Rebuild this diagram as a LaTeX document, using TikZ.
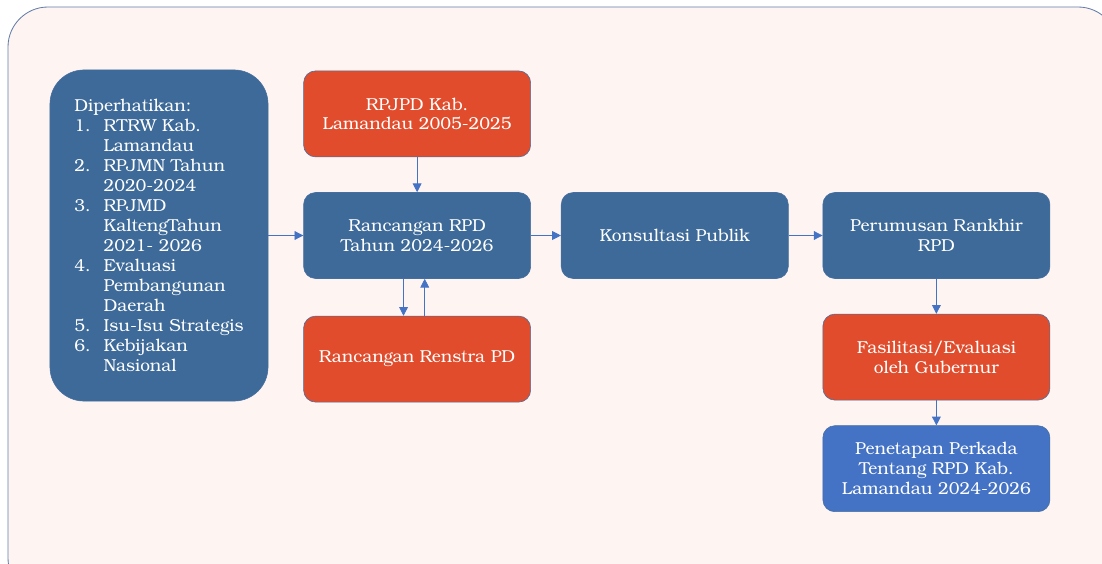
\documentclass[tikz,border=0pt]{standalone}
\usepackage{fontspec}
\setmainfont{TeX Gyre Bonum}
\usepackage{tikz}
\usetikzlibrary{arrows.meta,positioning}
\usepackage{xcolor}
\definecolor{rpdblue}{RGB}{61,106,152}
\definecolor{rpdred}{RGB}{224,76,44}
\definecolor{rpdbright}{RGB}{68,114,196}
\definecolor{rpdline}{RGB}{70,110,160}
\definecolor{rpdbg}{RGB}{254,244,242}
\definecolor{rpdframe}{RGB}{100,125,170}
\newcommand{\nomor}[2]{\makebox[0.73cm][l]{#1}#2}
\newcommand{\lanjut}[1]{\hspace*{0.73cm}#1}

\begin{document}
\begin{tikzpicture}[x=0.025cm,y=-0.025cm,
      box/.style={draw=rpdline,line width=0.4pt,rounded corners=0.3cm,align=center,text=white,
        font=\fontsize{12.3}{14.2}\selectfont,minimum width=5.675cm,minimum height=2.15cm,inner sep=2pt},
      link/.style={-{Triangle[length=2.2mm,width=2.2mm]},rpdbright,line width=0.6pt}]
    \clip (0,0) rectangle (1102,564);
    \draw[rpdframe,fill=rpdbg,line width=0.6pt,rounded corners=1cm] (8,7) rectangle (1118,598);
    \node[box,fill=rpdblue,rounded corners=0.85cm,align=left,minimum width=5.45cm,minimum height=8.275cm] (kiri) at (159,235.5)
      {Diperhatikan:\\ \nomor{1.}{RTRW Kab.}\\ \lanjut{Lamandau}\\ \nomor{2.}{RPJMN Tahun}\\ \lanjut{2020-2024}\\
       \nomor{3.}{RPJMD}\\ \lanjut{KaltengTahun}\\ \lanjut{2021- 2026}\\ \nomor{4.}{Evaluasi}\\ \lanjut{Pembangunan}\\
       \lanjut{Daerah}\\ \nomor{5.}{Isu-Isu Strategis}\\ \nomor{6.}{Kebijakan}\\ \lanjut{Nasional}\hspace*{0.1cm}};
    \node[box,fill=rpdblue,right=0.875cm of kiri] (rpd) {Rancangan RPD\\Tahun 2024-2026};
    \node[box,fill=rpdred,above=0.875cm of rpd] (rpjpd) {RPJPD Kab.\\Lamandau 2005-2025};
    \node[box,fill=rpdred,below=0.925cm of rpd] (renstra) {Rancangan Renstra PD};
    \node[box,fill=rpdblue,right=0.75cm of rpd] (konsul) {Konsultasi Publik};
    \node[box,fill=rpdblue,right=0.85cm of konsul] (rumus) {Perumusan Rankhir\\RPD};
    \node[box,fill=rpdred,below=0.875cm of rumus] (fasil) {Fasilitasi/Evaluasi\\oleh Gubernur};
    \node[box,fill=rpdbright,below=0.625cm of fasil] (tetap) {Penetapan Perkada\\Tentang RPD Kab.\\Lamandau 2024-2026};
    \draw[link] (kiri)--(rpd); \draw[link] (rpjpd)--(rpd);
    \draw[link] ([xshift=-0.34cm]rpd.south)--([xshift=-0.34cm]renstra.north);
    \draw[link] ([xshift=0.19cm]renstra.north)--([xshift=0.19cm]rpd.south);
    \draw[link] (rpd)--(konsul); \draw[link] (konsul)--(rumus);
    \draw[link] (rumus)--(fasil); \draw[link] (fasil)--(tetap);
  \end{tikzpicture}
\end{document}
